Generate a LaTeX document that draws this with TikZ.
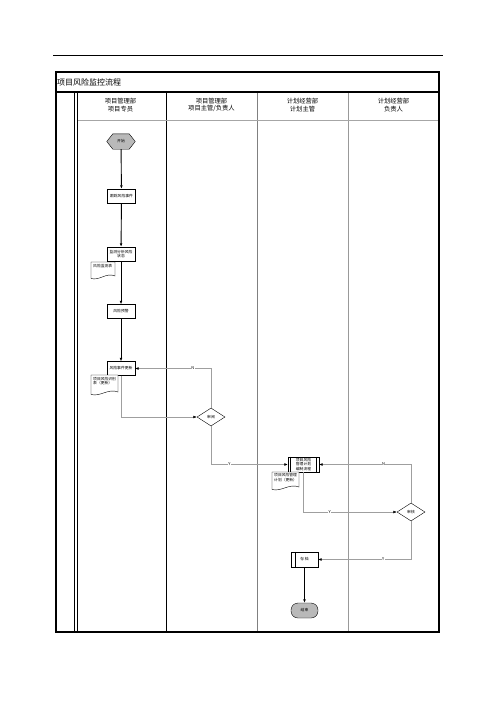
\documentclass[tikz,border=0pt]{standalone}
\usepackage{fontspec}
\setmainfont{Noto Sans CJK SC}
\usetikzlibrary{arrows.meta,shapes.geometric}
\newcommand\mydoc[4]{%
  \draw[line width=0.4pt,fill=white] (#1,#2) -- (#3,#2) -- (#3,#4-2)
    .. controls ({#3-0.35*(#3-#1)},#4-6) and ({#1+0.35*(#3-#1)},#4+3) .. (#1,#4+0.5) -- cycle;}
\begin{document}
\begin{tikzpicture}[x=1pt,y=-1pt,
  box/.style={draw,fill=white,line width=0.4pt,minimum width=28pt,minimum height=14pt,
    inner sep=0.5pt,align=center,font=\fontsize{3.8}{4.4}\selectfont},
  doctext/.style={inner sep=0pt,align=left,font=\fontsize{3.8}{4.4}\selectfont},
  dia/.style={draw,fill=white,diamond,aspect=1.55,line width=0.4pt,minimum width=28pt,
    minimum height=18pt,inner sep=0pt,font=\fontsize{3.8}{4.4}\selectfont},
  head/.style={align=center,font=\fontsize{6.3}{7.6}\selectfont},
  flow/.style={line width=0.9pt,-{Latex[length=3.5pt,width=2.8pt]}},
  conn/.style={draw=gray!75,line width=0.5pt,-{Latex[length=3.5pt,width=2.8pt,color=black]}},
  lbl/.style={inner sep=0.5pt,fill=white,font=\fontsize{4}{4}\selectfont}]
\useasboundingbox (0,0) rectangle (496,702);
% page rule and frame
\draw[line width=0.8pt] (53,55) -- (443,55);
\draw[line width=0.6pt] (166,92) -- (166,632);
\draw[gray,line width=1pt] (257,92) -- (257,632);
\draw[gray!80,line width=0.6pt] (348,92) -- (348,632);
\draw[gray!70,line width=0.5pt] (77,120) -- (439,120);
\draw[line width=0.9pt] (74.5,92) -- (74.5,632);
\draw[line width=0.5pt] (76.8,92) -- (76.8,632);
\draw[line width=1.3pt] (56,72) rectangle (439,632);
\draw[line width=1.3pt] (56,92) -- (439,92);
\node[anchor=west,inner sep=0pt,font=\fontsize{8}{9}\selectfont] (title) at (57,82) {项目风险监控流程};
% headers
\node[head] (h1) at (120.5,105) {项目管理部\\项目专员};
\node[head] (h2) at (211.5,105) {项目管理部\\项目主管/负责人};
\node[head] (h3) at (302.5,105) {计划经营部\\计划主管};
\node[head] (h4) at (393.5,105) {计划经营部\\负责人};
% start hexagon
\node[minimum width=28pt,minimum height=15pt,inner sep=0pt] (start) at (121,141.5) {};
\draw[fill=gray!55,line width=0.4pt] (start.west) -- ([xshift=6pt]start.north west) -- ([xshift=-6pt]start.north east)
  -- (start.east) -- ([xshift=-6pt]start.south east) -- ([xshift=6pt]start.south west) -- cycle;
\node[font=\fontsize{3.8}{4.4}\selectfont] at (start) {开始};
% column 1 boxes
\node[box] (track) at (121.5,196) {跟踪风险事件};
\node[box] (mon) at (121,254) {监测分析风险\\状态};
\mydoc{91}{262}{115}{278}
\node[doctext,anchor=north west] (mtab) at (93,264.5) {风险监测表};
\node[box] (warn) at (121,311.5) {风险预警};
\node[box] (upd) at (121,368.5) {风险事件更新};
\mydoc{91}{375}{118}{394}
\node[doctext,anchor=north west] (rtab) at (93,377) {项目风险识别\\表（更新）};
% column 2
\node[dia] (rev) at (211,417) {审阅};
% column 3
\node[box,minimum width=31pt,minimum height=15pt] (plan) at (303.5,464.5) {项目风险\\管理计划\\编制流程};
\draw[line width=0.7pt] ([xshift=2.5pt]plan.north west) -- ([xshift=2.5pt]plan.south west);
\draw[line width=0.7pt] ([xshift=-2.5pt]plan.north east) -- ([xshift=-2.5pt]plan.south east);
\mydoc{272}{472}{299}{489}
\node[doctext,anchor=north west] (ptab) at (274,473.5) {项目风险管理\\计划（更新）};
\node[box,minimum width=27pt,minimum height=15pt] (arch) at (304.5,559.5) {存\,档};
\draw[line width=0.4pt] ([xshift=4pt]arch.north west) -- ([xshift=4pt]arch.south west);
\node[draw,fill=gray!55,rounded rectangle/.try,rounded corners=7pt,minimum width=27pt,minimum height=15pt,
  inner sep=0pt,line width=0.4pt,font=\fontsize{3.8}{4.4}\selectfont] (end) at (304.5,610.5) {结束};
% column 4
\node[dia] (aud) at (411,512) {审核};
% flows
\draw[flow] (start) -- (track);
\draw[flow] (track) -- (mon);
\draw[flow] (mon) -- (warn);
\draw[flow] (warn) -- (upd);
\draw[flow] (arch) -- (end);
\draw[conn] (upd.south) |- (rev.west);
\draw[conn] (rev.north) |- node[lbl,pos=0.62] {N} (upd.east);
\draw[conn] (rev.south) |- node[lbl,pos=0.62] {Y} (plan.west);
\draw[conn] (plan.south) |- node[lbl,pos=0.64] {Y} (aud.west);
\draw[conn] (aud.north) |- node[lbl,pos=0.65] {N} (plan.east);
\draw[conn] (aud.south) |- node[lbl,pos=0.65] {Y} (arch.east);
\end{tikzpicture}
\end{document}
